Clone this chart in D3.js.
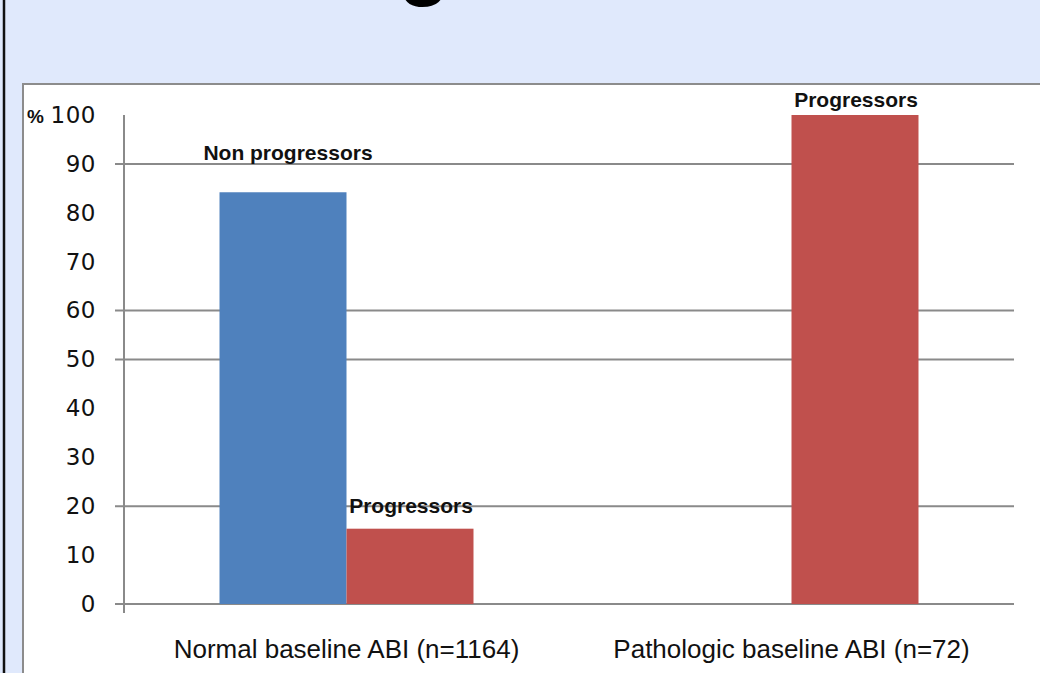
<!DOCTYPE html>
<html>
<head>
<meta charset="utf-8">
<script src="https://cdn.jsdelivr.net/npm/d3@7"></script>
<style>
  body { margin: 0; background: #e0e9fc; }
  svg { display: block; }
</style>
</head>
<body>
<svg id="chart"></svg>
<script>
// Data
const categories = ["Normal baseline ABI (n=1164)", "Pathologic baseline ABI (n=72)"];
const seriesNames = ["Non progressors", "Progressors"];
const nonProgressors = [84.2, 0];
const progressors = [15.4, 100];
const yTicks = [0, 10, 20, 30, 40, 50, 60, 70, 80, 90, 100];
const gridValues = [20, 50, 60, 90];

const width = 1040;
const height = 673;
const colors = { "Non progressors": "#4f81bd", "Progressors": "#c0504d" };

const svg = d3.select("#chart")
    .attr("width", width)
    .attr("height", height);

// slide background, left frame line and the cut-off title glyph
svg.append("rect")
    .attr("width", width).attr("height", height)
    .attr("fill", "#e0e9fc");
svg.append("line")
    .attr("x1", 4).attr("x2", 4).attr("y1", 0).attr("y2", height)
    .attr("stroke", "#111").attr("stroke-width", 2.5);
svg.append("text")
    .attr("x", 424).attr("y", -10)
    .attr("text-anchor", "middle")
    .style("font-family", "Liberation Sans, Arial, sans-serif")
    .style("font-weight", "bold")
    .style("font-size", "84px")
    .attr("fill", "#000")
    .text("g");

// white chart panel
svg.append("rect")
    .attr("x", 23).attr("y", 84)
    .attr("width", 1040).attr("height", 700)
    .attr("fill", "#fff")
    .attr("stroke", "#8c8c8c")
    .attr("stroke-width", 2);

const plot = { left: 124, right: 1014, top: 115, bottom: 604 };

const x0 = d3.scaleBand()
    .domain(categories)
    .range([plot.left, plot.right])
    .padding(0);

const x1 = d3.scaleBand()
    .domain(seriesNames)
    .range([0, x0.bandwidth()])
    .paddingInner(0)
    .paddingOuter(0.752);

const y = d3.scaleLinear()
    .domain([0, 100])
    .range([plot.bottom, plot.top]);

// gridlines
svg.append("g")
    .selectAll("line")
    .data(gridValues)
    .join("line")
    .attr("x1", plot.left - 9)
    .attr("x2", plot.right)
    .attr("y1", d => y(d))
    .attr("y2", d => y(d))
    .attr("stroke", "#8a8a8a")
    .attr("stroke-width", 2);

// y axis
const yAxis = svg.append("g")
    .attr("transform", `translate(${plot.left},0)`)
    .call(d3.axisLeft(y).tickValues(yTicks).tickSize(0).tickPadding(28).tickFormat(d3.format("d")));
yAxis.select(".domain").remove();
yAxis.selectAll(".tick line").remove();
yAxis.selectAll(".tick text")
    .style("font-family", "DejaVu Sans, Verdana, sans-serif")
    .style("font-size", "23px")
    .style("letter-spacing", "0.5px")
    .attr("fill", "#111");

svg.append("line")
    .attr("x1", plot.left).attr("x2", plot.left)
    .attr("y1", plot.top).attr("y2", plot.bottom + 9)
    .attr("stroke", "#8a8a8a")
    .attr("stroke-width", 2);

// x baseline
svg.append("line")
    .attr("x1", plot.left - 9).attr("x2", plot.right)
    .attr("y1", y(0)).attr("y2", y(0))
    .attr("stroke", "#8a8a8a")
    .attr("stroke-width", 2);

// "%" unit mark next to the 100 tick
svg.append("text")
    .attr("x", 27).attr("y", y(100) + 8)
    .style("font-family", "Liberation Sans, Arial, sans-serif")
    .style("font-weight", "bold")
    .style("font-size", "19px")
    .attr("fill", "#111")
    .text("%");

// bars
const rows = categories.map((c, i) => ({
    category: c,
    values: [
        { series: "Non progressors", value: nonProgressors[i] },
        { series: "Progressors", value: progressors[i] }
    ]
}));

const groups = svg.append("g")
    .selectAll("g")
    .data(rows)
    .join("g")
    .attr("transform", d => `translate(${x0(d.category)},0)`);

groups.selectAll("rect")
    .data(d => d.values)
    .join("rect")
    .attr("x", d => x1(d.series))
    .attr("y", d => y(d.value))
    .attr("width", x1.bandwidth())
    .attr("height", d => y(0) - y(d.value))
    .attr("fill", d => colors[d.series]);

// bar labels (distance above each bar as in the original)
const labelLift = { "Non progressors": [32, 0], "Progressors": [16, 8] };
groups.each(function (row, i) {
    d3.select(this).selectAll("text.bar-label")
        .data(row.values.filter(v => v.value > 0))
        .join("text")
        .attr("class", "bar-label")
        .attr("x", d => x1(d.series) + x1.bandwidth() / 2 + (d.series === "Non progressors" ? 5 : 1))
        .attr("y", d => y(d.value) - labelLift[d.series][i])
        .attr("text-anchor", "middle")
        .style("font-family", "Liberation Sans, Arial, sans-serif")
        .style("font-weight", "bold")
        .style("font-size", "21px")
        .attr("fill", "#111")
        .text(d => d.series);
});

// category labels
svg.append("g")
    .selectAll("text")
    .data(categories)
    .join("text")
    .attr("x", d => x0(d) + x0.bandwidth() / 2)
    .attr("y", 658)
    .attr("text-anchor", "middle")
    .style("font-family", "Liberation Sans, Arial, sans-serif")
    .style("font-size", "26px")
    .attr("fill", "#111")
    .text(d => d);
</script>
</body>
</html>
